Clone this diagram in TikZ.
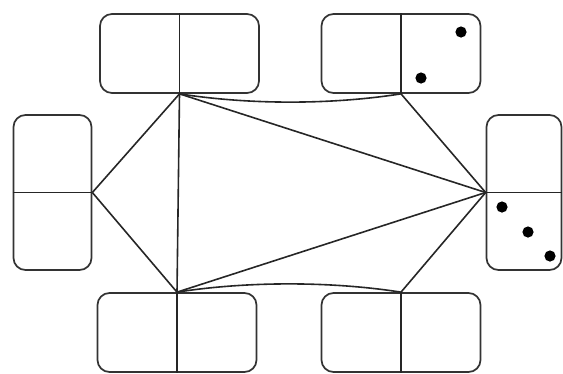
\documentclass[tikz,border=0pt]{standalone}
\begin{document}
\begin{tikzpicture}[x=1pt,y=-1pt,
  domino/.style={draw=black!80, line width=1.7pt, rounded corners=12pt, inner sep=0pt, fill=white},
  hdom/.style={domino, minimum width=159pt, minimum height=79pt},
  vdom/.style={domino, minimum width=78pt, minimum height=155pt},
  edge/.style={draw=black!85, line width=1.6pt},
  pip/.style={fill=black}]
\useasboundingbox (0,0) rectangle (563,373);
% dominoes
\node[hdom] (tl) at (179.5,53.5) {};
\node[hdom] (tr) at (401,53.5) {};
\node[vdom] (l) at (52.5,192.5) {};
\node[vdom, minimum width=75pt] (r) at (524,192.5) {};
\node[hdom] (bl) at (177,332.5) {};
\node[hdom] (br) at (401,332.5) {};
% dividers
\draw[edge] (tl.north) -- (tl.south);
\draw[edge] (tr.north) -- (tr.south);
\draw[edge] (l.west) -- (l.east);
\draw[edge] (r.west) -- (r.east);
\draw[edge] (bl.north) -- (bl.south);
\draw[edge] (br.north) -- (br.south);
% pips
\fill[pip] (461,32) circle (5.6);
\fill[pip] (421,78) circle (5.6);
\fill[pip] (502,207) circle (5.6);
\fill[pip] (528,232) circle (5.6);
\fill[pip] (550,256) circle (5.6);
% connectors
\draw[edge] (tl.south) -- (l.east);
\draw[edge] (tl.south) -- (bl.north);
\draw[edge] (tl.south) .. controls +(70,11) and +(-70,11) .. (tr.south);
\draw[edge] (tl.south) -- (r.west);
\draw[edge] (tr.south) -- (r.west);
\draw[edge] (l.east) -- (bl.north);
\draw[edge] (bl.north) -- (r.west);
\draw[edge] (bl.north) .. controls +(70,-11) and +(-70,-11) .. (br.north);
\draw[edge] (br.north) -- (r.west);
\end{tikzpicture}
\end{document}
